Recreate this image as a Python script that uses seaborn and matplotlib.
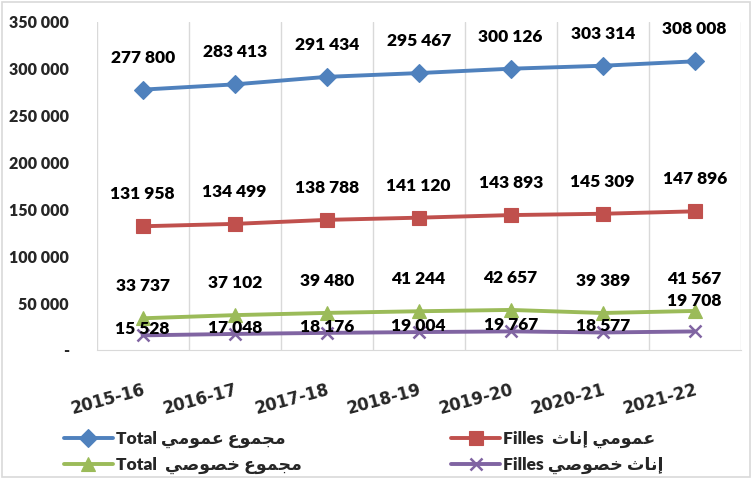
import pandas as pd
import matplotlib.pyplot as plt
import matplotlib.ticker as mticker
import seaborn as sns
import numpy as np

# Données
annees = ["2015-16", "2016-17", "2017-18", "2018-19", "2019-20", "2020-21", "2021-22"]
total_public = [277800, 283413, 291434, 295467, 300126, 303314, 308008]
filles_public = [131958, 134499, 138788, 141120, 143893, 145309, 147896]
total_prive = [33737, 37102, 39480, 41244, 42657, 39389, 41567]
filles_prive = [15528, 17048, 18176, 19004, 19767, 18577, 19708]

# Formes contextuelles arabes (matplotlib ne fait pas le shaping)
FORMES = {
    'ا': ('\uFE8D', '\uFE8E', None, None),
    'إ': ('\uFE87', '\uFE88', None, None),
    'و': ('\uFEED', '\uFEEE', None, None),
    'ث': ('\uFE99', '\uFE9A', '\uFE9B', '\uFE9C'),
    'ج': ('\uFE9D', '\uFE9E', '\uFE9F', '\uFEA0'),
    'خ': ('\uFEA5', '\uFEA6', '\uFEA7', '\uFEA8'),
    'ص': ('\uFEB9', '\uFEBA', '\uFEBB', '\uFEBC'),
    'ع': ('\uFEC9', '\uFECA', '\uFECB', '\uFECC'),
    'م': ('\uFEE1', '\uFEE2', '\uFEE3', '\uFEE4'),
    'ن': ('\uFEE5', '\uFEE6', '\uFEE7', '\uFEE8'),
    'ي': ('\uFEF1', '\uFEF2', '\uFEF3', '\uFEF4'),
}


def arabe(txt):
    out = []
    for i, c in enumerate(txt):
        if c not in FORMES:
            out.append(c)
            continue
        f = FORMES[c]
        avant = i > 0 and txt[i - 1] in FORMES and FORMES[txt[i - 1]][2] is not None
        apres = i < len(txt) - 1 and txt[i + 1] in FORMES and f[2] is not None
        if avant and apres:
            out.append(f[3])
        elif avant:
            out.append(f[1])
        elif apres:
            out.append(f[2])
        else:
            out.append(f[0])
    return ''.join(out)[::-1]


series = [
    ("Total " + arabe("مجموع عمومي"), total_public, "#4F81BD", "D", 9),
    ("Filles  " + arabe("عمومي إناث"), filles_public, "#C0504D", "s", 9.5),
    ("Total  " + arabe("مجموع خصوصي"), total_prive, "#9BBB59", "^", 10),
    ("Filles " + arabe("إناث خصوصي"), filles_prive, "#8064A2", "x", 9),
]

sns.set_style("white")
plt.rcParams['font.family'] = ['Lato', 'DejaVu Sans']
plt.rcParams['font.weight'] = 'heavy'

fig = plt.figure(figsize=(7.55, 4.78), dpi=100)
ax = fig.add_axes([0.128, 0.268, 0.853, 0.686])

x = np.arange(len(annees))
for nom, vals, couleur, mk, ms in series:
    df = pd.DataFrame({"x": x, "y": vals})
    sns.lineplot(data=df, x="x", y="y", ax=ax, color=couleur, linewidth=2.8,
                 marker=mk, markersize=ms, markeredgecolor=couleur,
                 markeredgewidth=1.8 if mk == "x" else 0.8, label=nom)

# Étiquettes de données
def fmt(v):
    return f"{int(v):,}".replace(",", " ")

for nom, vals, couleur, mk, ms in series:
    for i, v in enumerate(vals):
        dy = 32
        if vals is filles_prive:
            dy = 30 if i == len(vals) - 1 else 6
        ax.annotate(fmt(v), (x[i], v), xytext=(0, dy), textcoords="offset pixels",
                    ha="center", va="center", fontsize=12.5, fontweight="heavy", color="black")

ax.set_xlim(-0.5, len(annees) - 0.5)
ax.set_ylim(0, 350000)
ax.yaxis.set_major_locator(mticker.MultipleLocator(50000))
ax.yaxis.set_major_formatter(mticker.FuncFormatter(lambda v, p: "-" if v == 0 else fmt(v)))
ax.set_xticks(x)
ax.set_xticklabels(annees, rotation=15, ha="right", rotation_mode="anchor",
                   fontsize=12, fontweight="bold", fontfamily="DejaVu Sans")
ax.tick_params(axis="y", labelsize=11.5, length=0, pad=20)
ax.tick_params(axis="x", length=0, pad=22)
for lbl in ax.get_yticklabels():
    lbl.set_fontweight("heavy")
ax.set_xticks(np.arange(-0.5, len(annees)), minor=True)
ax.grid(which="minor", axis="x", color="#d9d9d9", linewidth=1)
ax.grid(which="major", visible=False)
ax.set_xlabel("")
ax.set_ylabel("")
for s in ["top", "right", "left"]:
    ax.spines[s].set_visible(False)
ax.spines["bottom"].set_color("#d9d9d9")

h, l = ax.get_legend_handles_labels()
ordre = [0, 2, 1, 3]
ax.legend([h[i] for i in ordre], [l[i] for i in ordre], ncol=2, loc="upper left",
          bbox_to_anchor=(-0.075, -0.2), frameon=False, handlelength=2.8,
          columnspacing=8.6, labelspacing=0.5, handletextpad=0.2,
          prop={"weight": "heavy", "size": 12.5})

fig.patches.append(plt.Rectangle((0.003, 0.003), 0.99, 0.992, transform=fig.transFigure,
                                 fill=False, edgecolor="#d9d9d9", linewidth=1.2))

fig.savefig("out.png", dpi=100)
